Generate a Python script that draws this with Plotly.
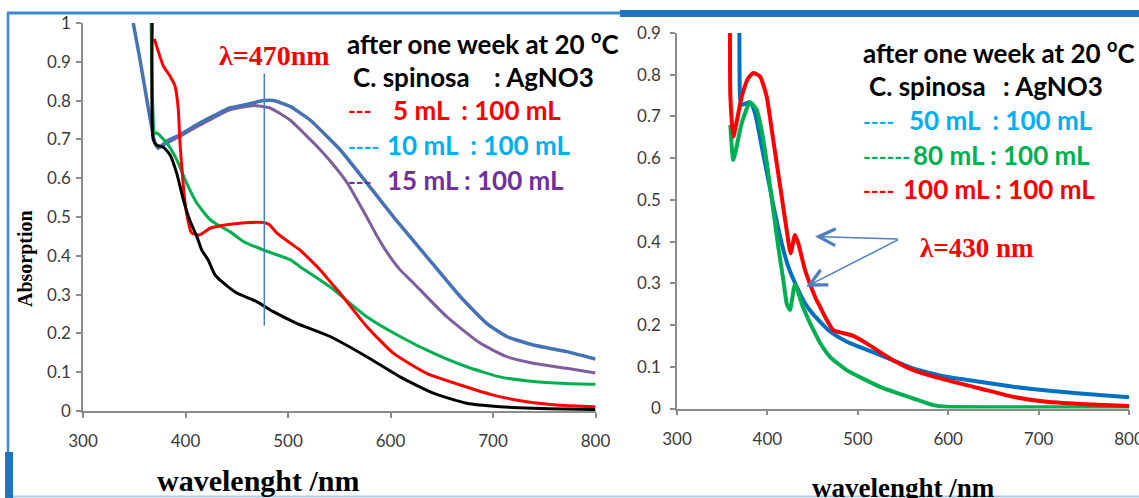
import plotly.graph_objects as go

W, H = 1139, 498

# ---------------- data: left panel ----------------
wl_blue_l = [349, 355.6, 370.2, 373.5, 381.6, 394.6, 411, 427, 443, 459.7, 476, 485.7, 502, 521.5, 541, 550.7, 576.8, 602.7, 635.3, 668, 693.8, 713.4, 739.3, 771.9, 800]
ab_blue_l = [1.0, 0.906, 0.691, 0.678, 0.695, 0.712, 0.738, 0.76, 0.781, 0.79, 0.80, 0.80, 0.785, 0.75, 0.70, 0.674, 0.588, 0.501, 0.398, 0.295, 0.226, 0.192, 0.17, 0.153, 0.134]

wl_purple_l = [372, 381.6, 394.6, 411, 427, 443, 459.7, 469, 482.4, 502, 521.5, 531.2, 541, 557.3, 576.8, 586, 596.3, 609, 622.3, 654.8, 687.3, 713.4, 739.3, 771.9, 800]
ab_purple_l = [0.675, 0.69, 0.708, 0.733, 0.755, 0.776, 0.785, 0.787, 0.781, 0.75, 0.70, 0.674, 0.645, 0.59, 0.50, 0.455, 0.41, 0.365, 0.33, 0.243, 0.175, 0.14, 0.123, 0.110, 0.098]

wl_green_l = [366.5, 367, 370, 371.9, 381.6, 391.4, 401, 411, 424, 433.7, 443, 456.4, 476, 502, 511.7, 541, 576.8, 609.3, 641.8, 674.3, 706.8, 739.3, 771.9, 800]
ab_green_l = [1.0, 0.9, 0.715, 0.717, 0.691, 0.648, 0.588, 0.536, 0.493, 0.476, 0.463, 0.437, 0.415, 0.39, 0.372, 0.32, 0.243, 0.192, 0.149, 0.114, 0.088, 0.076, 0.071, 0.069]

wl_red_l = [369.6, 378.4, 385, 389.8, 393, 394.6, 397.9, 401, 406, 414, 424, 440, 453, 476, 482, 489, 502, 511.7, 521.5, 531.2, 541, 550.7, 576.8, 602.7, 635.3, 668, 700.3, 732.8, 765.3, 800]
ab_red_l = [0.959, 0.889, 0.863, 0.837, 0.777, 0.691, 0.579, 0.51, 0.459, 0.454, 0.471, 0.48, 0.484, 0.486, 0.48, 0.459, 0.433, 0.415, 0.39, 0.364, 0.334, 0.304, 0.218, 0.149, 0.097, 0.067, 0.041, 0.024, 0.015, 0.011]

wl_black_l = [367.5, 368.5, 372, 378.4, 385, 391.4, 397.9, 404, 411, 415.8, 422, 428.8, 437, 450, 469.5, 485.7, 508.5, 541, 576.8, 609.3, 641.8, 674.3, 706.8, 739.3, 770, 800]
ab_black_l = [1.0, 0.70, 0.685, 0.68, 0.66, 0.613, 0.545, 0.493, 0.45, 0.415, 0.39, 0.351, 0.33, 0.304, 0.282, 0.256, 0.226, 0.192, 0.14, 0.088, 0.046, 0.02, 0.011, 0.007, 0.005, 0.004]

# ---------------- data: right panel ----------------
wl_blue_r = [369, 369.5, 371, 380.8, 386.3, 393.7, 401, 408.4, 415.8, 423.1, 432.4, 441.6, 451, 469, 488, 525, 561, 598, 635, 672, 709, 746, 800]
ab_blue_r = [0.9, 0.76, 0.728, 0.734, 0.708, 0.628, 0.548, 0.468, 0.396, 0.34, 0.292, 0.252, 0.225, 0.185, 0.16, 0.128, 0.096, 0.076, 0.064, 0.052, 0.043, 0.036, 0.027]

wl_green_r = [359, 362.3, 371.6, 380.8, 388.1, 395.5, 401, 406.5, 412, 417.6, 421.5, 425, 430.5, 439, 445, 451, 458, 469.2, 487.7, 524.6, 561.4, 583.6, 598.3, 650, 700, 800]
ab_green_r = [0.68, 0.596, 0.684, 0.734, 0.716, 0.644, 0.564, 0.476, 0.388, 0.308, 0.25, 0.236, 0.298, 0.245, 0.215, 0.188, 0.158, 0.124, 0.092, 0.052, 0.024, 0.008, 0.004, 0.003, 0.003, 0.003]

wl_red_r = [358.6, 359, 362.3, 371.6, 378.9, 384.4, 391.8, 399.2, 404.8, 410.3, 415.8, 421.3, 425.7, 430.5, 434.2, 441.6, 452.7, 458.2, 465, 472.9, 495, 509.7, 535.6, 561.4, 598.3, 635.2, 672, 709, 745.8, 800]
ab_red_r = [0.9, 0.75, 0.652, 0.748, 0.792, 0.804, 0.796, 0.748, 0.668, 0.588, 0.508, 0.428, 0.372, 0.416, 0.396, 0.332, 0.268, 0.244, 0.215, 0.188, 0.174, 0.156, 0.12, 0.092, 0.068, 0.048, 0.028, 0.016, 0.011, 0.006]

# ---------------- ticks ----------------
x_ticks = [300, 400, 500, 600, 700, 800]
x_labels = ["300", "400", "500", "600", "700", "800"]
y_ticks_l = [0, 0.1, 0.2, 0.3, 0.4, 0.5, 0.6, 0.7, 0.8, 0.9, 1]
y_labels_l = ["0", "0.1", "0.2", "0.3", "0.4", "0.5", "0.6", "0.7", "0.8", "0.9", "1"]
y_ticks_r = [0, 0.1, 0.2, 0.3, 0.4, 0.5, 0.6, 0.7, 0.8, 0.9]
y_labels_r = ["0", "0.1", "0.2", "0.3", "0.4", "0.5", "0.6", "0.7", "0.8", "0.9"]

peak_left = 476.9
arrow_tail = (546, 0.406)
arrow_tips = [(452.7, 0.412), (443, 0.292)]


def px(x):
    return x / W


def py(y):
    return 1 - y / H


fig = go.Figure()

def add(x, y, color, width, axis):
    fig.add_trace(go.Scatter(x=x, y=y, mode="lines", xaxis="x" + axis, yaxis="y" + axis,
                             line=dict(color=color, width=width, shape="spline", smoothing=0.5),
                             showlegend=False, hoverinfo="skip"))

# left panel (z-order)
add(wl_purple_l, ab_purple_l, "#7D5FA0", 3, "")
add(wl_blue_l, ab_blue_l, "#4572B5", 3.5, "")
add(wl_green_l, ab_green_l, "#00B050", 3, "")
add(wl_red_l, ab_red_l, "#FF0000", 3, "")
add(wl_black_l, ab_black_l, "#000000", 3, "")
# right panel
add(wl_blue_r, ab_blue_r, "#0070C0", 4, "2")
add(wl_green_r, ab_green_r, "#00B050", 4, "2")
add(wl_red_r, ab_red_r, "#FF0000", 4, "2")

tickfont = dict(family="Lato, sans-serif", size=17, color="#3a3a3a")
axcommon = dict(showgrid=False, zeroline=False, showline=True, linecolor="#8c8c8c", linewidth=1.5,
                ticks="outside", ticklen=5, tickcolor="#8c8c8c", tickwidth=1.5, tickfont=tickfont,
                fixedrange=True, automargin=False, ticklabeloverflow="allow")

fig.update_layout(
    width=W, height=H, margin=dict(l=0, r=0, t=0, b=0, pad=0, autoexpand=False),
    paper_bgcolor="white", plot_bgcolor="white",
    xaxis=dict(domain=[px(83), px(595.5)], range=[300, 800], tickvals=x_ticks, ticktext=x_labels,
               anchor="y", ticklabelstandoff=9, **axcommon),
    yaxis=dict(domain=[py(411), py(23)], range=[0, 1], tickvals=y_ticks_l, ticktext=y_labels_l,
               anchor="x", ticklabelstandoff=2, **axcommon),
    xaxis2=dict(domain=[px(677), px(1129)], range=[300, 800], tickvals=x_ticks, ticktext=x_labels,
                anchor="y2", ticklabelstandoff=9, **axcommon),
    yaxis2=dict(domain=[py(408.5), py(33)], range=[0, 0.9], tickvals=y_ticks_r, ticktext=y_labels_r,
                anchor="x2", ticklabelstandoff=6, **axcommon),
)

# vertical marker line at the left peak
fig.add_shape(type="line", xref="x", yref="y", x0=peak_left, x1=peak_left, y0=0.22, y1=0.87,
              line=dict(color="#4A7EBB", width=1.5))

# blue frame decorations
frame = "#1F74C4"
fig.add_shape(type="line", xref="paper", yref="paper", x0=px(7), x1=px(620), y0=py(13), y1=py(13),
              line=dict(color="#3D8AD0", width=3))
fig.add_shape(type="line", xref="paper", yref="paper", x0=px(8), x1=px(8), y0=py(12), y1=py(452),
              line=dict(color="#3D8AD0", width=2.5))
fig.add_shape(type="rect", xref="paper", yref="paper", x0=px(5), x1=px(13), y0=py(452), y1=py(498),
              line=dict(width=0), fillcolor=frame)
fig.add_shape(type="rect", xref="paper", yref="paper", x0=px(620), x1=px(1139), y0=py(10), y1=py(17),
              line=dict(width=0), fillcolor=frame)
fig.add_shape(type="line", xref="paper", yref="paper", x0=px(13), x1=px(1139), y0=py(496.5), y1=py(496.5),
              line=dict(color="#A9CBE8", width=2))

sans = "Lato, sans-serif"
serif = "Liberation Serif, Times New Roman, serif"


def txt(x, y, s, color="black", size=26, family=sans, anchor="left", angle=0):
    fig.add_annotation(xref="paper", yref="paper", x=px(x), y=py(y), text=s, showarrow=False,
                       xanchor=anchor, yanchor="middle", textangle=angle,
                       font=dict(family=family, size=size, color=color))

B = lambda s: "<b>" + s + "</b>"
DS = 21  # size of the dash glyphs in the legend lines

# left legend block
txt(345, 43, B("after one week at 20 <sup>o</sup>C"))
txt(351, 77, B("C. spinosa"))
txt(492, 77, B(": AgNO3"))
txt(346, 110, B("---"), "#FF0000", DS)
txt(391, 110, B("5 mL\u00a0 : 100 mL"), "#FF0000")
txt(346, 145, B("----"), "#00B0F0", DS)
txt(385, 145, B("10 mL\u00a0 : 100 mL"), "#00B0F0")
txt(346, 180, B("---"), "#7030A0", DS)
txt(385, 180, B("15 mL : 100 mL"), "#7030A0")
txt(217, 56, B("λ=470nm"), "#FF0000", 28, serif)
txt(25, 259, B("Absorption"), "black", 20, serif, "center", -90)
txt(155, 480, B("wavelenght /nm"), "black", 30, serif)

# right legend block
txt(861, 52, B("after one week at 20 <sup>o</sup>C"))
txt(867, 86, B("C. spinosa"))
txt(1001, 86, B(": AgNO3"))
txt(861, 120, B("----"), "#00B0F0", DS)
txt(907, 120, B("50 mL\u00a0 : 100 mL"), "#00B0F0")
txt(861, 155, B("------"), "#00B050", DS)
txt(911, 155, B("80 mL : 100 mL"), "#00B050")
txt(861, 189, B("----"), "#FF0000", DS)
txt(901, 189, B("100 mL : 100 mL"), "#FF0000")
txt(918, 248, B("λ=430 nm"), "#FF0000", 27, serif)
txt(810, 488, B("wavelenght /nm"), "black", 27, serif)

for tx, ty in arrow_tips:
    fig.add_annotation(xref="x2", yref="y2", x=tx, y=ty, axref="x2", ayref="y2",
                       ax=arrow_tail[0], ay=arrow_tail[1], text="", showarrow=True,
                       arrowhead=5, arrowsize=2.2, arrowwidth=1.5, arrowcolor="#4F7FC0")

fig.write_html("out.html", config={"displayModeBar": False},
               post_script="document.body.style.margin='0';")
